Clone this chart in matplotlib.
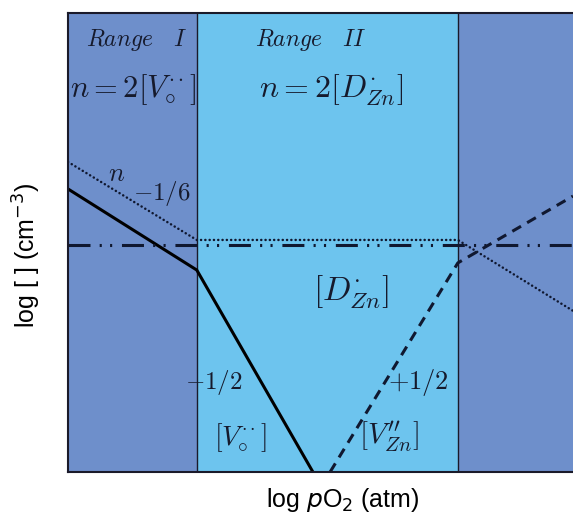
import numpy as np
import matplotlib
matplotlib.use("Agg")
import matplotlib.pyplot as plt

plt.rcParams['mathtext.fontset'] = 'cm'
plt.rcParams['font.family'] = ['Liberation Sans', 'DejaVu Sans']

# region boundaries (log pO2, arbitrary units)
x_min, x_max = 0.0, 10.0
y_min, y_max = 0.0, 9.0
b1, b2 = 2.55, 7.72

# defect concentration lines (log units)
vo_x = [0.0, 2.55, 4.85]
vo_y = [5.55, 3.96, 0.0]
n_x = [0.0, 2.55, 7.72, 10.0]
n_y = [6.08, 4.55, 4.55, 3.16]
dzn_x = [0.0, 10.0]
dzn_y = [4.45, 4.45]
vzn_x = [5.19, 7.72, 10.0]
vzn_y = [0.0, 4.10, 5.41]

c_dark = '#6e8fcb'
c_light = '#6dc4ee'
c_txt = '#161a2c'

fig = plt.figure(figsize=(5.73, 5.24), dpi=100)
ax = fig.add_axes([68/573, 1-472/524, 1-68/573, (472-13)/524])

ax.axvspan(x_min, b1, color=c_dark, lw=0)
ax.axvspan(b1, b2, color=c_light, lw=0)
ax.axvspan(b2, x_max, color=c_dark, lw=0)
ax.axvline(b1, color='#1a1a2a', lw=1.0)
ax.axvline(b2, color='#1a1a2a', lw=1.0)

ax.plot(vo_x, vo_y, color='black', lw=2.2, solid_joinstyle='miter')
ax.plot(n_x, n_y, color='#101830', lw=1.8, linestyle=(0, (0.05, 1.67)),
        dash_capstyle='round')
ax.plot(dzn_x, dzn_y, color='#101830', lw=2.2,
        linestyle=(0, (7.2, 3, 0.7, 2.7, 0.7, 3.2)))
ax.plot(vzn_x, vzn_y, color='#101830', lw=2.2, linestyle=(0, (3.3, 2.3)))

kw = dict(color=c_txt, ha='center', va='center')
ax.text(1.35, 8.47, r'$Range\quad I$', fontsize=17, **kw)
ax.text(1.29, 7.49, r'$n=2[V_{\circ}^{\cdot\cdot}]$', fontsize=22, **kw)
ax.text(4.81, 8.47, r'$Range\quad II$', fontsize=17, **kw)
ax.text(5.21, 7.49, r'$n=2[D^{\cdot}_{Zn}]$', fontsize=23, **kw)
ax.text(0.97, 5.85, r'$n$', fontsize=19, **kw)
ax.text(1.86, 5.47, r'$-1/6$', fontsize=18, **kw)
ax.text(5.60, 3.53, r'$[D^{\cdot}_{Zn}]$', fontsize=24, **kw)
ax.text(2.89, 1.75, r'$-1/2$', fontsize=18, **kw)
ax.text(3.41, 0.67, r'$[V_{\circ}^{\cdot\cdot}]$', fontsize=20, **kw)
ax.text(6.93, 1.75, r'$+1/2$', fontsize=19, **kw)
ax.text(6.36, 0.69, r'$[V_{Zn}^{\prime\prime}]$', fontsize=21, **kw)

ax.set_xlim(x_min, x_max)
ax.set_ylim(y_min, y_max)
ax.set_xticks([])
ax.set_yticks([])
ax.spines['right'].set_visible(False)
for s in ['left', 'top', 'bottom']:
    ax.spines[s].set_linewidth(1.5)
    ax.spines[s].set_color('#1a1a2a')

fig.text(343/573, 1-500/524, r'log $p$O$_2$ (atm)', fontsize=18,
         ha='center', va='center', math_fontfamily='dejavusans')
fig.text(27/573, 1-255/524, r'log [ ] (cm$^{-3}$)', fontsize=18, rotation=90,
         ha='center', va='center', math_fontfamily='dejavusans')

fig.savefig('out.png', dpi=100)
